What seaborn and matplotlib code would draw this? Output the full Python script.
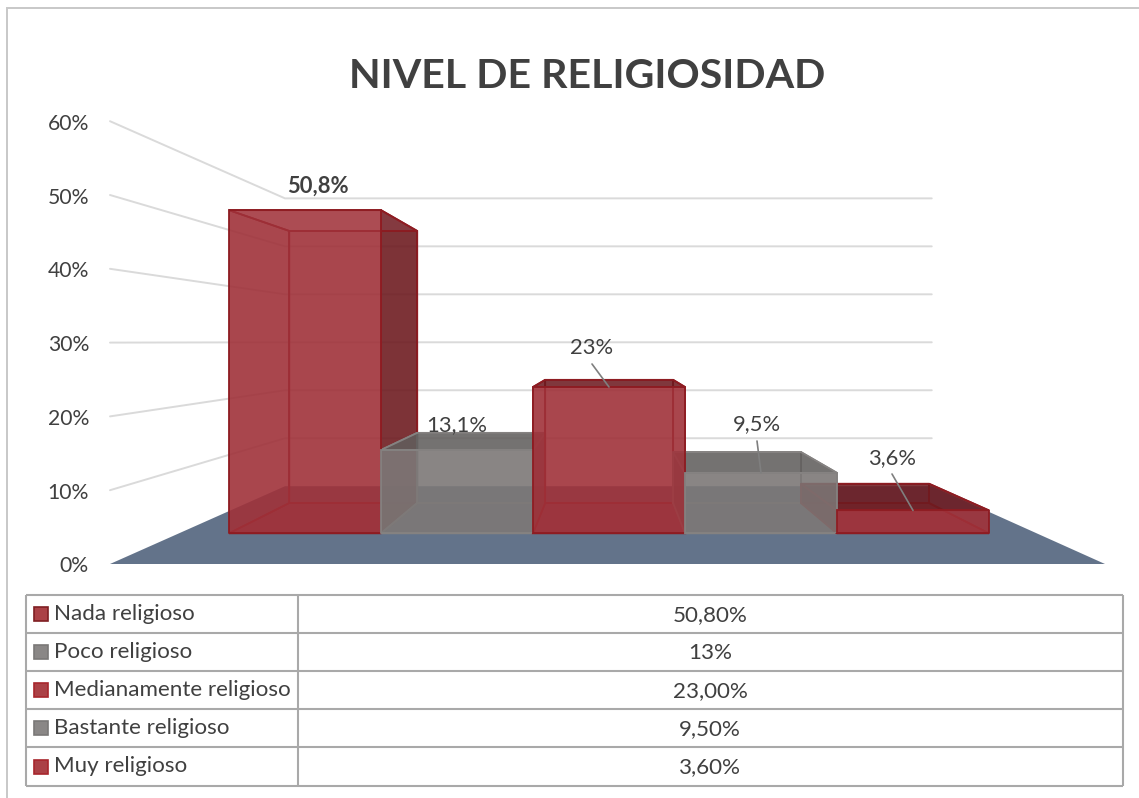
import matplotlib
matplotlib.use("Agg")
import matplotlib.pyplot as plt
from matplotlib.colors import to_rgba
from matplotlib.patches import Polygon, Rectangle
import seaborn as sns
import pandas as pd

# ---- data ----
categories = ["Nada religioso", "Poco religioso", "Medianamente religioso", "Bastante religioso", "Muy religioso"]
values = [50.8, 13.1, 23.0, 9.5, 3.6]
bar_labels = ["50,8%", "13,1%", "23%", "9,5%", "3,6%"]
table_values = ["50,80%", "13%", "23,00%", "9,50%", "3,60%"]
axis_ticks = [0, 10, 20, 30, 40, 50, 60]
title = "NIVEL DE RELIGIOSIDAD"

# ---- style ----
W, H = 1139, 798
sns.set_theme(style="white")
plt.rcParams["font.family"] = ["Lato", "DejaVu Sans"]
TXT = "#404040"
RED = "#a0323a"; RED_EDGE = "#8e1c22"
GRAY = "#7c7877"; GRAY_EDGE = "#858281"
FACE = [RED, GRAY, RED, GRAY, RED]
EDGE = [RED_EDGE, GRAY_EDGE, RED_EDGE, GRAY_EDGE, RED_EDGE]
KEY = ["#ab4146", "#8a8786", "#ab4146", "#8a8786", "#ab4146"]
KEY_E = ["#7f1f23", "#7a7877", "#a8262c", "#7a7877", "#a8262c"]
FS_TICK, FS_LAB, FS_TAB = 15.2, 15.8, 16.1

# perspective model (pixels)
VX, VY = 610.0, 341.7
BASE_Y, PX_PER = 564.0, 7.38
S_WALL, S_FRONT, S_BACK = 0.65, 0.862, 0.7256
FLOOR_L, FLOOR_R = 110.0, 1105.0
BAR_X0, BAR_W = 229.0, 152.0

def proj(u, v, s):
    return (VX + s * (u - VX), VY + s * (BASE_Y - v * PX_PER - VY))

def world_u(x_front):
    return VX + (x_front - VX) / S_FRONT

fig = plt.figure(figsize=(W / 100, H / 100), dpi=100, facecolor="white")

def pixel_axes(z):
    ax = fig.add_axes([0, 0, 1, 1], zorder=z)
    ax.set_xlim(0, W); ax.set_ylim(H, 0); ax.axis("off")
    ax.patch.set_alpha(0)
    return ax

back = pixel_axes(0)
top = pixel_axes(3)

# chart frame (left and top only are in view)
back.plot([6.5, 6.5, W], [H, 7.5, 7.5], color="#c8c8c8", lw=1.4, solid_joinstyle="miter")

# floor
back.add_patch(Polygon([proj(FLOOR_L, 0, 1), proj(FLOOR_R, 0, 1), proj(FLOOR_R, 0, S_WALL), proj(FLOOR_L, 0, S_WALL)],
                       closed=True, fc="#63738a", ec="none", zorder=1))

# gridlines on side and rear wall
for t in axis_ticks[1:]:
    pts = [proj(FLOOR_L, t, 1), proj(FLOOR_L, t, S_WALL), proj(FLOOR_R, t, S_WALL)]
    back.plot(*zip(*pts), color="#dadada", lw=1.4, zorder=0.5, solid_joinstyle="miter")
    top.text(89, proj(FLOOR_L, t, 1)[1] + 2.5, f"{t}%", ha="right", va="center", fontsize=FS_TICK, color=TXT)
top.text(89, BASE_Y + 1.5, "0%", ha="right", va="center", fontsize=FS_TICK, color=TXT)

# cuboid faces behind the front face
for i, v in enumerate(values):
    ul, ur = world_u(BAR_X0 + BAR_W * i), world_u(BAR_X0 + BAR_W * (i + 1))
    fc, ec = FACE[i], EDGE[i]
    dark = "#6b1a1f" if fc == RED else "#5f5c5b"
    z = 2 + i * 0.1
    def face(pts, color, alpha):
        back.add_patch(Polygon(pts, closed=True, fc=to_rgba(color, alpha), ec=ec, lw=1.3, zorder=z))
    floor = [proj(ul, 0, S_FRONT), proj(ur, 0, S_FRONT), proj(ur, 0, S_BACK), proj(ul, 0, S_BACK)]
    rear = [proj(ul, 0, S_BACK), proj(ur, 0, S_BACK), proj(ur, v, S_BACK), proj(ul, v, S_BACK)]
    left = [proj(ul, 0, S_FRONT), proj(ul, 0, S_BACK), proj(ul, v, S_BACK), proj(ul, v, S_FRONT)]
    right = [proj(ur, 0, S_FRONT), proj(ur, 0, S_BACK), proj(ur, v, S_BACK), proj(ur, v, S_FRONT)]
    roof = [proj(ul, v, S_FRONT), proj(ur, v, S_FRONT), proj(ur, v, S_BACK), proj(ul, v, S_BACK)]
    face(floor, fc, 0.6)
    face(rear, fc, 0.3)
    # a side or roof lying outside the front face is seen from outside: darker
    left_out = proj(ul, v, S_BACK)[0] < proj(ul, v, S_FRONT)[0]
    right_out = proj(ur, v, S_BACK)[0] > proj(ur, v, S_FRONT)[0]
    roof_out = proj(ul, v, S_BACK)[1] < proj(ul, v, S_FRONT)[1]
    face(left, dark if left_out else fc, 0.85 if left_out else 0.3)
    face(right, dark if right_out else fc, 0.85 if right_out else 0.3)
    face(roof, dark if roof_out else fc, 0.82 if roof_out else 0.1)

# front faces: seaborn bars, axes aligned with the front plane of the cuboids
y0 = proj(0, 0, S_FRONT)[1]
y60 = proj(0, 60, S_FRONT)[1]
front = fig.add_axes([BAR_X0 / W, 1 - y0 / H, BAR_W * len(values) / W, (y0 - y60) / H], zorder=2)
front.patch.set_alpha(0)
df = pd.DataFrame({"categoria": categories, "valor": values})
sns.barplot(data=df, x="categoria", y="valor", hue="categoria", palette=FACE, width=1.0, legend=False,
            saturation=1, ax=front)
for p, c, e in zip(front.patches, FACE, EDGE):
    p.set_facecolor(to_rgba(c, 0.86)); p.set_edgecolor(e); p.set_linewidth(1.3)
front.set_xlim(-0.5, len(values) - 0.5); front.set_ylim(0, 60)
front.axis("off")

# title
top.text(587.5, 76, title, ha="center", va="center", fontsize=29.6, fontweight="bold", color=TXT)

# data labels and leaders
label_pos = [(318, 186.5), (457, 425.5), (592, 347.5), (757, 424.5), (892, 458.5)]
leader_start = [None, None, (592, 364), (757, 441), (892, 474)]
for i, (lab, v) in enumerate(zip(bar_labels, values)):
    top.text(*label_pos[i], lab, ha="center", va="center", fontsize=FS_LAB, color=TXT,
             fontweight="bold" if i == 0 else "normal")
    if leader_start[i]:
        uc = world_u(BAR_X0 + BAR_W * (i + 0.5))
        end = proj(uc, v, S_FRONT)
        top.plot([leader_start[i][0], end[0]], [leader_start[i][1], end[1]], color="#7f7f7f", lw=1.2)

# data table
row_y = [594.5, 633, 671, 709, 747, 786]
TX0, TX1, TXM = 25.5, 1122.5, 298
TC = "#a9a9a9"
top.hlines(row_y, TX0, TX1, color=TC, lw=1.5)
top.vlines([TX0, TXM, TX1], row_y[0], row_y[-1], color=TC, lw=1.5)
for i, (c, tv) in enumerate(zip(categories, table_values)):
    yc = (row_y[i] + row_y[i + 1]) / 2
    top.add_patch(Rectangle((34, yc - 7), 14, 14, fc=KEY[i], ec=KEY_E[i], lw=1.2))
    top.text(54, yc, c, ha="left", va="center", fontsize=FS_TAB, color=TXT)
    top.text(710, yc + 1, tv, ha="center", va="center", fontsize=FS_TAB, color=TXT)

fig.savefig("out.png", dpi=100)
